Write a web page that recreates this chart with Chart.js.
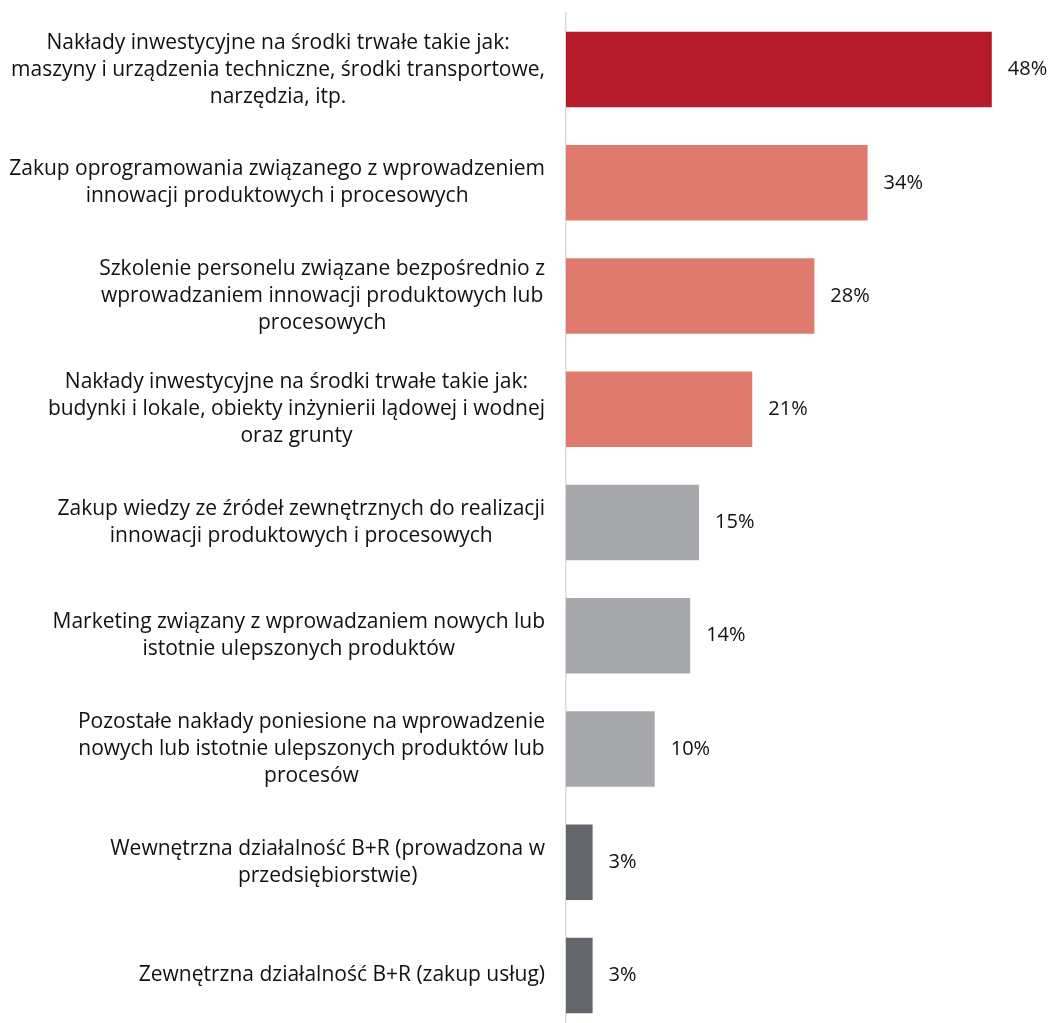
<!DOCTYPE html>
<html>
<head>
<meta charset="utf-8">
<script src="https://cdn.jsdelivr.net/npm/chart.js@4"></script>
<style>
html,body{margin:0;padding:0;background:#fff;overflow:hidden;}
canvas{display:block;}
</style>
</head>
<body>
<canvas id="c" width="1052" height="1035"></canvas>
<script>
const categories = [
  ["Nakłady inwestycyjne na środki trwałe takie jak:", "maszyny i urządzenia techniczne, środki transportowe,", "narzędzia, itp."],
  ["Zakup oprogramowania związanego z wprowadzeniem", "innowacji produktowych i procesowych"],
  ["Szkolenie personelu związane bezpośrednio z", "wprowadzaniem innowacji produktowych lub", "procesowych"],
  ["Nakłady inwestycyjne na środki trwałe takie jak:", "budynki i lokale, obiekty inżynierii lądowej i wodnej", "oraz grunty"],
  ["Zakup wiedzy ze źródeł zewnętrznych do realizacji", "innowacji produktowych i procesowych"],
  ["Marketing związany z wprowadzaniem nowych lub", "istotnie ulepszonych produktów"],
  ["Pozostałe nakłady poniesione na wprowadzenie", "nowych lub istotnie ulepszonych produktów lub", "procesów"],
  ["Wewnętrzna działalność B+R (prowadzona w", "przedsiębiorstwie)"],
  ["Zewnętrzna działalność B+R (zakup usług)"]
];
const values = [48, 34, 28, 21, 15, 14, 10, 3, 3];
const barColors = ["#B51B2B", "#E07A6E", "#E07A6E", "#E07A6E", "#A6A8AB", "#A6A8AB", "#A6A8AB", "#63666A", "#63666A"];

const LABEL_FONT = '21px "Open Sans", sans-serif';
const VALUE_FONT = '20px "Open Sans", sans-serif';
const TEXT = '#111111';

const labelPlugin = {
  id: 'customLabels',
  afterDraw(chart) {
    const ctx = chart.ctx;
    const y = chart.scales.y;
    const meta = chart.getDatasetMeta(0);
    ctx.save();
    ctx.fillStyle = TEXT;
    ctx.textBaseline = 'middle';
    ctx.font = LABEL_FONT;
    const lineH = 27;
    const rightEdge = chart.chartArea.left - 21;
    categories.forEach((lines, i) => {
      const cy = y.getPixelForValue(i);
      const maxW = Math.max(...lines.map(l => ctx.measureText(l).width));
      const cx = rightEdge - maxW / 2;
      ctx.textAlign = 'center';
      const start = cy - (lines.length - 1) * lineH / 2;
      lines.forEach((l, k) => ctx.fillText(l, cx, start + k * lineH));
    });
    ctx.font = VALUE_FONT;
    meta.data.forEach((bar, i) => {
      ctx.textAlign = 'left';
      ctx.fillText(values[i] + '%', bar.x + 16, bar.y);
    });
    ctx.restore();
  }
};

new Chart(document.getElementById('c'), {
  type: 'bar',
  data: {
    labels: categories.map(c => c.join(' ')),
    datasets: [{
      data: values,
      backgroundColor: barColors,
      borderWidth: 0,
      categoryPercentage: 1,
      barPercentage: 0.667
    }]
  },
  options: {
    indexAxis: 'y',
    responsive: false,
    animation: false,
    layout: { padding: { left: 566, right: 7, top: 13, bottom: 3 } },
    plugins: { legend: { display: false }, tooltip: { enabled: false } },
    scales: {
      x: { display: false, min: 0, max: 54 },
      y: {
        display: true,
        grid: { display: false },
        ticks: { display: false },
        border: { display: true, color: '#D9D9D9', width: 1.5 },
        afterFit(s) { s.width = 0; }
      }
    }
  },
  plugins: [labelPlugin]
});
</script>
</body>
</html>
